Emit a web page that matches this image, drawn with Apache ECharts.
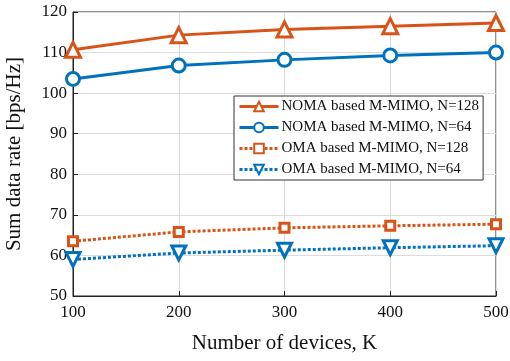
<!DOCTYPE html>
<html><head><meta charset="utf-8">
<script src="https://cdn.jsdelivr.net/npm/echarts@6/dist/echarts.min.js"></script>
<style>html,body{margin:0;padding:0;background:#fff}#c{width:510px;height:361px}</style>
</head><body><div id="c"></div>
<script>
const devices = [100, 200, 300, 400, 500];
const nomaN128 = [110.7, 114.3, 115.7, 116.5, 117.3];
const nomaN64 = [103.5, 106.8, 108.2, 109.3, 110.0];
const omaN128 = [63.5, 65.8, 66.8, 67.3, 67.7];
const omaN64 = [59.0, 60.6, 61.3, 61.9, 62.4];
const seriesNames = ['NOMA based M-MIMO, N=128', 'NOMA based M-MIMO, N=64', 'OMA based M-MIMO, N=128', 'OMA based M-MIMO, N=64'];
const xTicks = [100, 200, 300, 400, 500];
const yTicks = [50, 60, 70, 80, 90, 100, 110, 120];

const ORANGE = '#D95319', BLUE = '#0072BD';
const font = 'Liberation Serif';
function mk(name, vals, color, symbol, dotted, size) {
  return {
    name, type: 'line', data: devices.map((d, i) => [d, vals[i]]),
    symbol, symbolSize: size, showAllSymbol: true,
    lineStyle: { color, width: 3, type: dotted ? [3, 2] : 'solid' },
    itemStyle: { color: '#fff', borderColor: color, borderWidth: 3 },
    emphasis: { disabled: true }, animation: false, z: 3
  };
}
const chart = echarts.init(document.getElementById('c'));
chart.setOption({
  animation: false,
  grid: { left: 73, right: 14, top: 12, bottom: 65, show: true, borderColor: '#222', borderWidth: 1,
          containLabel: false, outerBoundsMode: 'none' },
  xAxis: {
    type: 'value', min: xTicks[0], max: xTicks[xTicks.length - 1], interval: 100,
    name: 'Number of devices, K', nameLocation: 'middle', nameGap: 37,
    nameTextStyle: { fontFamily: font, fontSize: 21, color: '#111' },
    axisLine: { lineStyle: { color: '#222' } },
    axisTick: { inside: true, length: 5, lineStyle: { color: '#222' } },
    axisLabel: { fontFamily: font, fontSize: 17, color: '#111', margin: 8 },
    splitLine: { show: true, lineStyle: { color: '#dcdcdc', width: 1 } }
  },
  yAxis: {
    type: 'value', min: yTicks[0], max: yTicks[yTicks.length - 1], interval: 10,
    name: 'Sum data rate [bps/Hz]', nameLocation: 'middle', nameGap: 48,
    nameTextStyle: { fontFamily: font, fontSize: 21, color: '#111' },
    axisLine: { lineStyle: { color: '#222' } },
    axisTick: { inside: true, length: 5, lineStyle: { color: '#222' } },
    axisLabel: { fontFamily: font, fontSize: 17, color: '#111', margin: 6 },
    splitLine: { show: true, lineStyle: { color: '#dcdcdc', width: 1 } }
  },
  legend: {
    orient: 'vertical', left: 234, top: 96, itemGap: 6, itemWidth: 39, itemHeight: 12,
    padding: [3, 4, 3, 4],
    backgroundColor: '#fff', borderColor: '#333', borderWidth: 1,
    lineStyle: { width: 3 },
    textStyle: { fontFamily: font, fontSize: 15, color: '#111', padding: [0, 0, 0, -2] },
    data: seriesNames
  },
  series: [
    mk(seriesNames[0], nomaN128, ORANGE, 'triangle', false, 15),
    mk(seriesNames[1], nomaN64, BLUE, 'circle', false, 13),
    mk(seriesNames[2], omaN128, ORANGE, 'rect', true, 9),
    mk(seriesNames[3], omaN64, BLUE, 'path://M0,0 L10,0 L5,9 Z', true, 14)
  ]
});
</script></body></html>
